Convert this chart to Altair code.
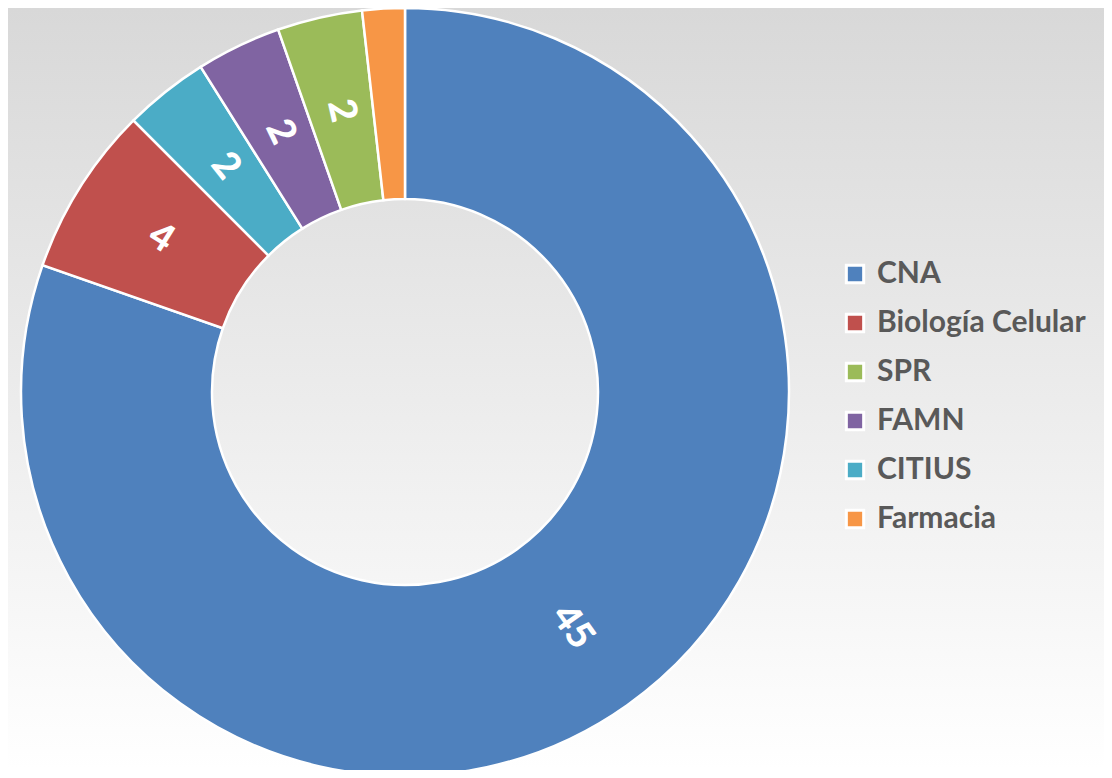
import altair as alt
import pandas as pd

categories = ["CNA", "Biología Celular", "CITIUS", "FAMN", "SPR", "Farmacia"]
values = [45, 4, 2, 2, 2, 1]
labels = ["45", "4", "2", "2", "2", ""]
slice_order = [0, 1, 2, 3, 4, 5]
legend_order = ["CNA", "Biología Celular", "SPR", "FAMN", "CITIUS", "Farmacia"]
legend_colors = ["#4F81BD", "#C0504D", "#9BBB59", "#8064A2", "#4BACC6", "#F79646"]

W, H = 1096, 762
CX, CY = 397, 384
R_OUT, R_IN = 384, 193

df = pd.DataFrame({"cat": categories, "value": values, "label": labels, "ord": slice_order})
bg_df = pd.DataFrame({"a": [0]})

bg = alt.Chart(bg_df).mark_rect(
    color=alt.LinearGradient(
        gradient="linear", x1=0, y1=0, x2=0, y2=1,
        stops=[alt.GradientStop(color="#d8d8d8", offset=0),
               alt.GradientStop(color="#ffffff", offset=1)],
    )
).encode(x=alt.value(0), x2=alt.value(W), y=alt.value(0), y2=alt.value(H))

color = alt.Color(
    "cat:N",
    scale=alt.Scale(domain=legend_order, range=legend_colors),
    legend=alt.Legend(
        title=None, orient="none", legendX=832, legendY=251,
        symbolType="square", symbolSize=300, symbolStrokeColor="white",
        symbolStrokeWidth=3, symbolOpacity=1,
        labelFont="Lato", labelFontWeight="bold", labelFontSize=30,
        labelColor="#595959", labelOffset=7, rowPadding=19, padding=0,
        labelLimit=400,
    ),
)

base = alt.Chart(df).encode(
    theta=alt.Theta("value:Q", stack=True),
    order=alt.Order("ord:Q"),
)

arcs = base.mark_arc(
    radius=R_OUT, radius2=R_IN, stroke="white", strokeWidth=2.5
).encode(color=color, x=alt.value(CX), y=alt.value(CY))

text = base.transform_window(
    cum="sum(value)", sort=[alt.SortField("ord", order="ascending")]
).transform_joinaggregate(
    total="sum(value)"
).transform_calculate(
    mid="(datum.cum - datum.value / 2) / datum.total * 360"
).transform_calculate(
    rot="datum.mid < 180 ? datum.mid - 90 : datum.mid - 270"
).mark_text(
    radius=(R_OUT + R_IN) / 2, font="Lato", fontWeight=900, fontSize=38,
    color="white", align="center", baseline="middle",
).encode(
    text="label:N", angle=alt.Angle("rot:Q", scale=None),
    x=alt.value(CX), y=alt.value(CY),
)

chart = alt.layer(bg, arcs, text).properties(
    width=W, height=H, padding=0,
    autosize=alt.AutoSizeParams(type="none"),
).configure_view(stroke=None)

chart.save("out.html", embed_options={"renderer": "svg", "actions": False})
